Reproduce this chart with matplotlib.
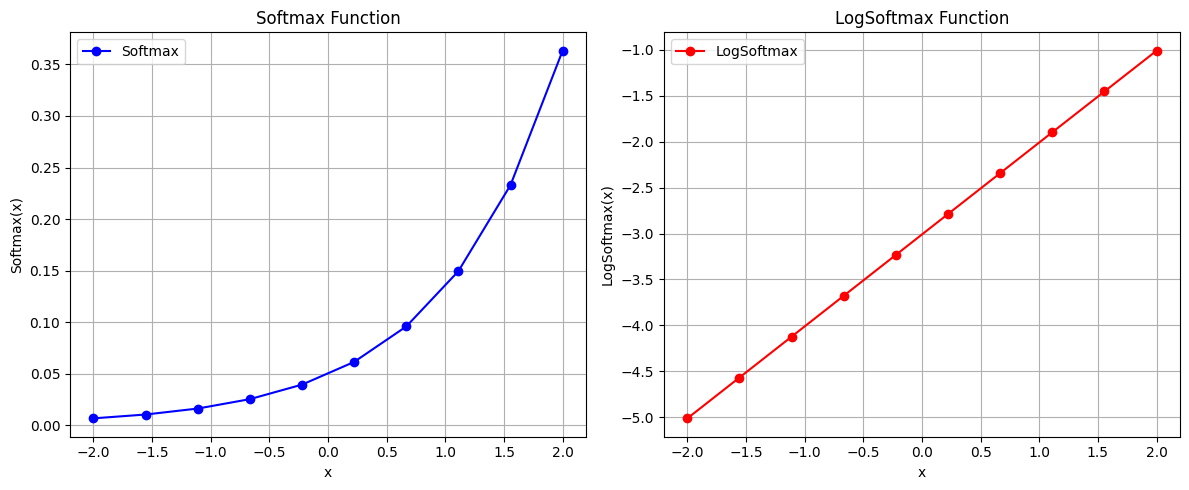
import matplotlib
matplotlib.use("Agg")
import matplotlib.pyplot as plt

x_vals = [-2.0, -1.556, -1.111, -0.667, -0.222, 0.222, 0.667, 1.111, 1.556, 2.0]
softmax_vals = [0.0067, 0.0104, 0.0162, 0.0253, 0.0394, 0.0614, 0.0958, 0.1494, 0.2330, 0.3633]
logsoftmax_vals = [-5.01, -4.566, -4.121, -3.677, -3.232, -2.788, -2.343, -1.899, -1.455, -1.012]

fig, (ax1, ax2) = plt.subplots(1, 2, figsize=(12, 5), dpi=100)

ax1.plot(x_vals, softmax_vals, 'o-', color='blue', label='Softmax')
ax1.set_title('Softmax Function')
ax1.set_xlabel('x')
ax1.set_ylabel('Softmax(x)')
ax1.grid(True)
ax1.legend(loc='upper left')

ax2.plot(x_vals, logsoftmax_vals, 'o-', color='red', label='LogSoftmax')
ax2.set_title('LogSoftmax Function')
ax2.set_xlabel('x')
ax2.set_ylabel('LogSoftmax(x)')
ax2.grid(True)
ax2.legend(loc='upper left')

fig.tight_layout()
fig.savefig('out.png', dpi=100, bbox_inches='tight')
